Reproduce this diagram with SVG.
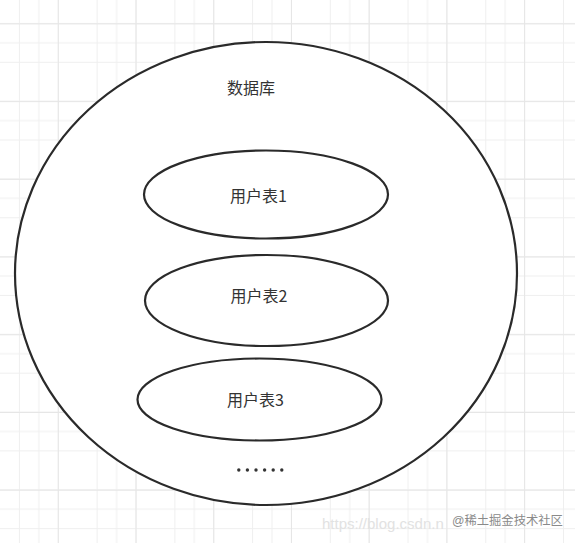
<svg xmlns="http://www.w3.org/2000/svg" width="575" height="543" viewBox="0 0 575 543">
  <defs>
    <pattern id="grid" x="0" y="4" width="77.72" height="77.72" patternUnits="userSpaceOnUse">
      <path d="M0 19.43H77.72M0 38.86H77.72M0 58.29H77.72M19.43 0V77.72M38.86 0V77.72M58.29 0V77.72" stroke="#efefef" stroke-width="1" fill="none"/>
    </pattern>
    <pattern id="gridMajor" x="0" y="23.4" width="77.72" height="77.72" patternUnits="userSpaceOnUse">
      <path d="M0 0.5H77.72M58.3 0V77.72" stroke="#e6e6e6" stroke-width="1" fill="none"/>
    </pattern>
  </defs>
  <style>
    .shape { fill: #ffffff; stroke: #2a2a2a; stroke-width: 2.2; }
    .label { font-family: "Noto Sans CJK SC", "Liberation Sans", sans-serif; font-size: 16px; fill: #333333; text-anchor: middle; dominant-baseline: central; }
    .dot { fill: #333333; }
    .wm { font-family: "Liberation Sans", "Noto Sans CJK SC", sans-serif; }
  </style>
  <rect width="575" height="543" fill="#ffffff"/>
  <rect width="575" height="543" fill="url(#grid)"/>
  <rect width="575" height="543" fill="url(#gridMajor)"/>

  <g id="database">
    <ellipse class="shape" cx="266" cy="273.5" rx="251" ry="231.5"/>
    <text class="label" x="251" y="87">数据库</text>
  </g>
  <g id="users1">
    <ellipse class="shape" cx="266" cy="194.5" rx="122" ry="44"/>
    <text class="label" x="258.5" y="195">用户表1</text>
  </g>
  <g id="users2">
    <ellipse class="shape" cx="266.5" cy="300.5" rx="121.5" ry="45.5"/>
    <text class="label" x="259" y="295">用户表2</text>
  </g>
  <g id="users3">
    <ellipse class="shape" cx="259.5" cy="399.5" rx="122" ry="41"/>
    <text class="label" x="255.5" y="399">用户表3</text>
  </g>
  <g id="more">
    <circle class="dot" cx="238.8" cy="470" r="1.7"/>
    <circle class="dot" cx="247.4" cy="470" r="1.7"/>
    <circle class="dot" cx="256" cy="470" r="1.7"/>
    <circle class="dot" cx="264.6" cy="470" r="1.7"/>
    <circle class="dot" cx="273.2" cy="470" r="1.7"/>
    <circle class="dot" cx="281.8" cy="470" r="1.7"/>
  </g>
  <g id="connectors"/>
  <g id="watermark">
    <text class="wm" x="322" y="529" font-size="15" fill="#e2e2e2">https://blog.csdn.n</text>
    <text class="wm" x="452" y="525" font-size="12.3" fill="#8a8a8a">@稀土掘金技术社区</text>
  </g>
</svg>
